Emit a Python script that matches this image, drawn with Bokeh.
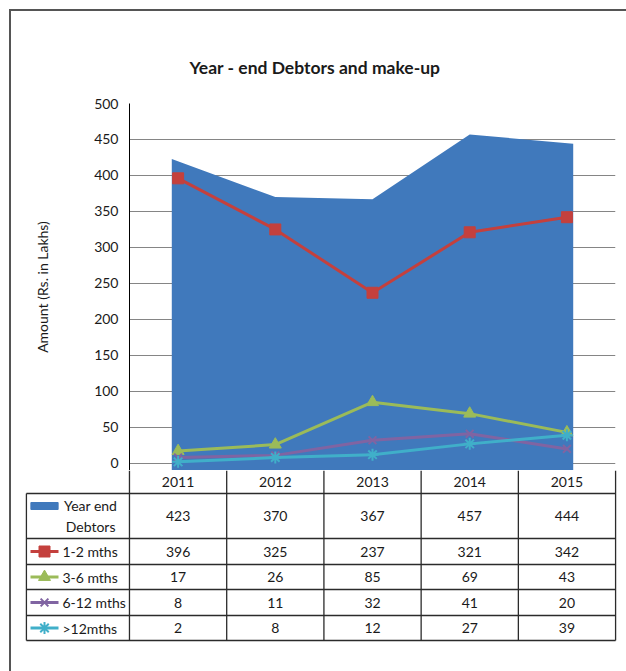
from bokeh.plotting import figure
from bokeh.models import Range1d, FactorRange, FixedTicker
from bokeh.layouts import column
from bokeh.core.properties import value
from bokeh.embed import file_html
from bokeh.resources import INLINE

# ---------------- data ----------------
years = ["2011", "2012", "2013", "2014", "2015"]
year_end_debtors = [423, 370, 367, 457, 444]
m1_2 = [396, 325, 237, 321, 342]
m3_6 = [17, 26, 85, 69, 43]
m6_12 = [8, 11, 32, 41, 20]
m12_plus = [2, 8, 12, 27, 39]
series_labels = ["Year end\nDebtors", "1-2 mths", "3-6 mths", "6-12 mths", ">12mths"]
y_ticks = [0, 50, 100, 150, 200, 250, 300, 350, 400, 450, 500]
title_text = "Year - end Debtors and make-up"
y_label = "Amount (Rs. in Lakhs)"

# ---------------- style ----------------
FONT = "Lato"
TXT = "#1a1a1a"
C_AREA = "#4079BC"
line_series = [
    (m1_2, "#C4403D", "square", 11, 1),
    (m3_6, "#9BBB59", "triangle", 12, 1),
    (m6_12, "#8064A2", "x", 11, 2),
    (m12_plus, "#40AFC9", "asterisk", 12, 2),
]
Y_MIN, Y_MAX = -10, 500
FS = "14px"
AREA_PAD = 0.065  # area edges reach slightly beyond the first/last category

# ---------------- chart ----------------
p = figure(width=615, height=459, x_range=FactorRange(*years),
           y_range=Range1d(Y_MIN, Y_MAX), output_backend="svg",
           toolbar_location=None, x_axis_location=None,
           min_border_left=118, min_border_right=11, min_border_top=92,
           min_border_bottom=0, frame_align=False)
p.outline_line_color = None
p.background_fill_color = "white"
p.border_fill_color = "white"
p.xgrid.visible = False
p.ygrid.ticker = FixedTicker(ticks=y_ticks)
p.ygrid.grid_line_color = "#858585"
p.ygrid.grid_line_width = 1
ax = p.yaxis[0]
ax.ticker = FixedTicker(ticks=y_ticks)
ax.major_tick_in = 0
ax.major_tick_out = 0
ax.minor_tick_in = 0
ax.minor_tick_out = 0
ax.axis_line_color = "#000000"
ax.major_label_standoff = 11
ax.major_label_text_font = FONT
ax.major_label_text_font_size = FS
ax.major_label_text_color = TXT
ax.axis_label = y_label
ax.axis_label_text_font = FONT
ax.axis_label_text_font_size = "14px"
ax.axis_label_text_font_style = "normal"
ax.axis_label_text_color = TXT
ax.axis_label_standoff = 40

p.title.text = title_text
p.title.align = "left"
p.title.offset = 60
p.title.standoff = 51
p.title.text_font = FONT
p.title.text_font_size = "17.5px"
p.title.text_font_style = "bold"
p.title.text_color = TXT

area_x = list(years)
area_x[0] = (years[0], -AREA_PAD)
area_x[-1] = (years[-1], AREA_PAD)
p.varea(x=area_x, y1=[Y_MIN] * len(years), y2=year_end_debtors, color=C_AREA)
for vals, col, mk, sz, lw in line_series:
    p.line(x=years, y=vals, color=col, line_width=3)
    p.scatter(x=years, y=vals, marker=mk, size=sz, color=col, line_width=lw)

# ---------------- table ----------------
LABEL_W = 1.06
row_edges = [0, 23, 68, 94, 119, 145, 170]
t = figure(width=615, height=201, x_range=Range1d(-1.09, 5.03),
           y_range=Range1d(172, 0), output_backend="svg",
           toolbar_location=None, x_axis_location=None, y_axis_location=None,
           min_border_left=12, min_border_right=8, min_border_top=0,
           min_border_bottom=29, frame_align=False)
t.outline_line_color = None
for g in t.grid:
    g.visible = False
ncol = len(years)
LC = "#2b2b2b"
# horizontal lines
t.segment(x0=[-LABEL_W] * 6, x1=[ncol] * 6, y0=row_edges[1:], y1=row_edges[1:],
          line_color=LC, line_width=1.3)
# vertical lines
t.segment(x0=[-LABEL_W], x1=[-LABEL_W], y0=[row_edges[1]], y1=[row_edges[-1]],
          line_color=LC, line_width=1.3)
t.segment(x0=list(range(ncol + 1)), x1=list(range(ncol + 1)),
          y0=[row_edges[0]] * (ncol + 1), y1=[row_edges[-1]] * (ncol + 1),
          line_color=LC, line_width=1.3)

col_x = [i + 0.5 for i in range(ncol)]
row_c = [(row_edges[i] + row_edges[i + 1]) / 2 for i in range(len(row_edges) - 1)]
# header years
t.text(x=col_x, y=[row_c[0]] * ncol, text=years, text_align="center",
       text_baseline="middle", text_font=value(FONT), text_font_size=FS,
       text_color=TXT)
all_series = [year_end_debtors, m1_2, m3_6, m6_12, m12_plus]
xs, ys, txt = [], [], []
for r, vals in enumerate(all_series):
    for c, v in enumerate(vals):
        xs.append(col_x[c]); ys.append(row_c[r + 1]); txt.append(str(v))
t.text(x=xs, y=ys, text=txt, text_align="center", text_baseline="middle",
       text_font=value(FONT), text_font_size=FS, text_color=TXT)

# legend keys
KX0, KX1, KXM = -1.018, -0.730, -0.874
t.rect(x=[KXM], y=[35.5], width=0.28, height=7, color=C_AREA)
t.text(x=[-0.40], y=[row_c[1]], text=[series_labels[0]], text_align="center",
       text_baseline="middle", text_font=value(FONT), text_font_size=FS,
       text_color=TXT, text_line_height=1.25)
for i, (vals, col, mk, sz, lw) in enumerate(line_series):
    yc = row_c[i + 2]
    t.segment(x0=[KX0], x1=[KX1], y0=[yc], y1=[yc], line_color=col, line_width=3)
    t.scatter(x=[KXM], y=[yc], marker=mk, size=sz, color=col, line_width=lw)
    t.text(x=[-0.69], y=[yc], text=[series_labels[i + 1]], text_align="left",
           text_baseline="middle", text_font=value(FONT),
           text_font_size=FS, text_color=TXT)

layout = column(p, t, spacing=0,
                styles={"border-left": "2px solid #555555",
                        "border-top": "2px solid #555555",
                        "margin-left": "9px", "margin-top": "9px"})

open("out.html", "w").write(file_html(layout, INLINE))
